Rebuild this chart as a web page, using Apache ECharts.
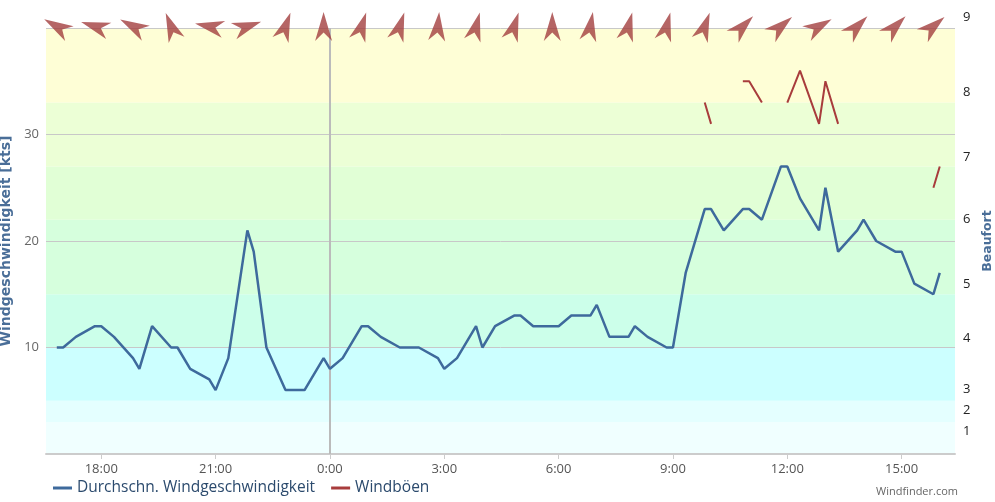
<!DOCTYPE html>
<html><head><meta charset="utf-8">
<script src="https://cdn.jsdelivr.net/npm/echarts@6/dist/echarts.min.js"></script>
<style>html,body{margin:0;padding:0;background:#fff}#c{width:995px;height:502px}</style>
</head><body><div id="c"></div>
<script>
// minutes relative to 0:00
const times = [-430,-420,-400,-370,-360,-340,-310,-300,-280,-250,-240,-220,-190,-180,-160,-130,-120,-100,-70,-60,-40,-10,0,20,50,60,80,110,120,140,170,180,200,230,240,260,290,300,320,350,360,380,410,420,440,470,480,500,530,540,560,590,600,620,650,660,680,710,720,740,770,780,800,830,840,860,890,900,920,950,960];
const avgSpeed = [10,10,11,12,12,11,9,8,12,10,10,8,7,6,9,21,19,10,6,6,6,9,8,9,12,12,11,10,10,10,9,8,9,12,10,12,13,13,12,12,12,13,13,14,11,11,12,11,10,10,17,23,23,21,23,23,22,27,27,24,21,25,19,21,22,20,19,19,16,15,17];
const gusts = [null,null,null,null,null,null,null,null,null,null,null,null,null,null,null,null,null,null,null,null,null,null,null,null,null,null,null,null,null,null,null,null,null,null,null,null,null,null,null,null,null,null,null,null,null,null,null,null,null,null,null,33,31,null,35,35,33,null,33,36,31,35,31,null,null,null,null,null,null,25,27];
const arrowTimes = [-430,-370,-310,-250,-190,-130,-70,-10,50,110,170,230,290,350,410,470,530,590,650,710,770,830,890,950];
const arrowDirs = [300,288,298,338,282,71,20,0,18,18,5,15,18,0,10,15,15,20,45,50,60,45,45,50];
const xTickValues = [-360,-180,0,180,360,540,720,900];
const beaufortLabels = ['1','2','3','4','5','6','7','8','9'];
const beaufortPos = [2.1,4.1,6.1,10.9,15.9,22,27.9,34,40];
const bandEdges = [0,3,5,10,15,22,27,33,40];
const bandColors = ['#f0ffff','#e4ffff','#ccffff','#ccffea','#d6ffdd','#e1ffd6','#ecffd6','#fefed6'];

const font = 'Open Sans';
const chart = echarts.init(document.getElementById('c'));
const avgData = times.map((t,i)=>[t,avgSpeed[i]]);
const gustData = times.map((t,i)=>[t,gusts[i]]);
const bands = bandColors.map((c,i)=>[{yAxis:bandEdges[i],itemStyle:{color:c}},{yAxis:bandEdges[i+1]}]);
const fmtHour = v => (((Math.round(v/60))%24+24)%24) + ':00';

chart.setOption({
  animation:false,
  title:{text:'Windfinder.com',right:32,bottom:0,textStyle:{fontSize:11,color:'#666',fontWeight:'normal',fontFamily:font}},
  grid:{left:46,right:40,top:28,bottom:48,containLabel:false,outerBoundsMode:'none'},
  legend:{left:48,bottom:1,icon:'rect',itemWidth:19,itemHeight:3,itemGap:16,
    data:['Durchschn. Windgeschwindigkeit','Windböen'],
    textStyle:{fontFamily:font,fontSize:15.5,color:'#2b4a6d'}},
  xAxis:{type:'value',min:-447,max:984,z:1,
    axisLine:{show:true,lineStyle:{color:'#cccccc',width:2}},
    axisTick:{show:true,customValues:xTickValues,length:5,lineStyle:{color:'#cccccc'}},
    axisLabel:{customValues:xTickValues,formatter:fmtHour,color:'#555',fontFamily:font,fontSize:13,margin:9},
    splitLine:{show:false}},
  yAxis:[
    {type:'value',min:0,max:40,interval:10,position:'left',z:1,
     name:'Windgeschwindigkeit [kts]',nameLocation:'middle',nameGap:28,nameRotate:90,
     nameTextStyle:{fontFamily:'DejaVu Sans',fontWeight:'bold',fontSize:14,color:'#4a6e98'},
     axisLine:{show:false},axisTick:{show:false},
     axisLabel:{color:'#666',fontFamily:font,fontSize:13,margin:7,formatter:v=>(v===0||v===40)?'':String(v)},
     splitLine:{show:true,lineStyle:{color:'#c8c8c8',width:1}}},
    {type:'value',min:0,max:40,position:'right',z:1,
     name:'Beaufort',nameLocation:'middle',nameGap:24,nameRotate:90,
     nameTextStyle:{fontFamily:'DejaVu Sans',fontWeight:'bold',fontSize:12.5,color:'#4a6e98'},
     axisLine:{show:false},axisTick:{show:false},splitLine:{show:false},
     axisLabel:{customValues:beaufortPos,color:'#222',fontFamily:font,fontSize:13,margin:8,
       formatter:v=>{const i=beaufortPos.indexOf(v);if(i<0)return '';return i===beaufortPos.length-1?'{up|'+beaufortLabels[i]+'}':beaufortLabels[i];},
       rich:{up:{padding:[0,0,22,0],color:'#222',fontFamily:font,fontSize:13}}}}
  ],
  series:[
    {name:'Durchschn. Windgeschwindigkeit',type:'line',data:avgData,showSymbol:false,z:2,
     lineStyle:{color:'#3e6a9c',width:2.5},itemStyle:{color:'#3e6a9c'},
     markArea:{silent:true,z:0.5,data:bands},
     markLine:{silent:true,z:1.2,symbol:['none','none'],label:{show:false},
       lineStyle:{color:'#bbbbbb',width:2,type:'solid'},data:[{xAxis:0}]}},
    {name:'Windböen',type:'line',data:gustData,showSymbol:false,connectNulls:false,z:2,
     lineStyle:{color:'#a83c3c',width:2},itemStyle:{color:'#a83c3c'}},
    {name:'dir',type:'scatter',clip:false,z:3,silent:true,
     symbol:'path://M8,0 L16,28 L8,20 L0,28 Z',symbolSize:[17,29],
     itemStyle:{color:'#a23f3f'},
     data:arrowTimes.map((t,i)=>({value:[t,40.15],symbolRotate:-arrowDirs[i]}))}
  ]
});
</script></body></html>
